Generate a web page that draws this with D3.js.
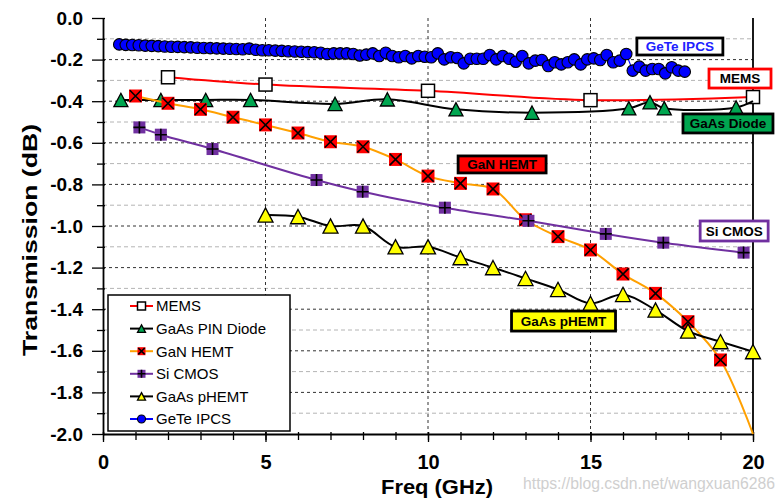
<!DOCTYPE html>
<html><head><meta charset="utf-8">
<script src="https://cdn.jsdelivr.net/npm/d3@7"></script>
<style>
html,body{margin:0;padding:0;background:#fff;}
svg{display:block;font-family:"Liberation Sans",Arial,sans-serif;}
</style></head><body>
<svg id="chart" width="783" height="501"></svg>
<script>
// ---------------- DATA ----------------
const memsFreq = [2, 5, 10, 15, 20];
const memsVal  = [-0.285, -0.32, -0.35, -0.395, -0.38];

const pinFreq = [0.55, 1.78, 3.16, 4.54, 7.14, 8.75, 10.86, 13.2, 16.18, 16.83, 17.27, 19.48];
const pinVal  = [-0.394, -0.394, -0.394, -0.394, -0.413, -0.391, -0.439, -0.455, -0.434, -0.405, -0.434, -0.43];
const pinTail = [[20, -0.40]];

const ganFreq = [1, 2, 3, 4, 5, 6, 7, 8, 9, 10, 11, 12, 13, 14, 15, 16, 17, 18, 19];
const ganVal  = [-0.375, -0.41, -0.439, -0.477, -0.514, -0.553, -0.595, -0.619, -0.68, -0.76, -0.795, -0.822, -0.97, -1.051, -1.115, -1.231, -1.324, -1.46, -1.644];
const ganTail = [[20, -2.0]];

const cmosFreq = [1.12, 1.78, 3.37, 6.57, 7.99, 10.52, 13.09, 15.47, 17.24, 19.71];
const cmosVal  = [-0.526, -0.561, -0.63, -0.779, -0.835, -0.912, -0.975, -1.038, -1.08, -1.128];

const phemtFreq = [5, 6, 7, 8, 9, 10, 11, 12, 13, 14, 15, 16, 17, 18, 19, 20];
const phemtVal  = [-0.947, -0.955, -1.0, -1.0, -1.1, -1.1, -1.152, -1.2, -1.252, -1.305, -1.372, -1.329, -1.404, -1.505, -1.556, -1.604];

const geteFreq = [0.5,0.7,0.9,1.1,1.3,1.5,1.7,1.9,2.1,2.3,2.5,2.7,2.9,3.1,3.3,3.5,3.7,3.9,4.1,4.3,4.5,4.7,4.9,5.1,5.3,5.5,5.7,5.9,6.1,6.3,6.5,
  6.7,6.9,7.1,7.3,7.5,7.7,7.9,8.1,8.3,8.5,8.7,8.9,9.1,9.3,9.5,9.7,9.9,10.1,10.3,10.5,10.7,10.9,11.1,11.3,11.5,11.7,11.9,12.1,12.3,12.5,12.7,12.9,13.1,13.3,
  13.5,13.7,13.9,14.1,14.3,14.5,14.7,14.9,15.1,15.3,15.5,15.7,15.9,16.1,16.3,16.5,16.7,16.9,17.1,17.3,17.5,17.7,17.9];
const geteVal = [-0.127,-0.129,-0.130,-0.131,-0.133,-0.134,-0.135,-0.137,-0.138,-0.139,-0.140,-0.141,-0.143,-0.144,-0.145,-0.146,-0.147,-0.148,-0.149,-0.150,-0.147,-0.153,-0.155,-0.155,-0.157,-0.158,-0.160,-0.161,-0.162,-0.164,-0.165,
  -0.167,-0.173,-0.170,-0.170,-0.170,-0.173,-0.180,-0.176,-0.170,-0.183,-0.167,-0.183,-0.189,-0.183,-0.194,-0.183,-0.186,-0.189,-0.170,-0.199,-0.189,-0.192,-0.218,-0.196,-0.196,-0.196,-0.178,-0.199,-0.183,-0.196,-0.210,-0.183,-0.218,-0.205,
  -0.202,-0.231,-0.213,-0.223,-0.213,-0.199,-0.223,-0.199,-0.194,-0.202,-0.178,-0.213,-0.205,-0.173,-0.253,-0.234,-0.253,-0.245,-0.245,-0.266,-0.237,-0.253,-0.258];

const seriesNames = ["MEMS", "GaAs PIN Diode", "GaN HEMT", "Si CMOS", "GaAs pHEMT", "GeTe IPCS"];

const yTickValues = [0, -0.2, -0.4, -0.6, -0.8, -1.0, -1.2, -1.4, -1.6, -1.8, -2.0];
const yTickLabels = ["0.0", "-0.2", "-0.4", "-0.6", "-0.8", "-1.0", "-1.2", "-1.4", "-1.6", "-1.8", "-2.0"];
const xTickValues = [0, 5, 10, 15, 20];
const xTickLabels = ["0", "5", "10", "15", "20"];

const annotationTexts = ["GeTe IPCS", "MEMS", "GaAs Diode", "GaN HEMT", "Si CMOS", "GaAs pHEMT"];
const annotationAnchorFreq = [17.75, 19.6, 19.23, 12.28, 19.42, 14.17];
const annotationAnchorVal  = [-0.137, -0.291, -0.507, -0.704, -1.024, -1.457];

// ---------------- LAYOUT / STYLE ----------------
const svg = d3.select("#chart");
const x = d3.scaleLinear().domain([0, 20]).range([103, 753]);
const y = d3.scaleLinear().domain([-2, 0]).range([434, 18]);

const zip = (a, b) => a.map((d, i) => [d, b[i]]);

// gridlines
const grid = svg.append("g");
d3.range(1, 20).forEach(k => {
  const v = -k / 10;
  const major = k % 2 === 0;
  grid.append("line")
    .attr("x1", x(0)).attr("x2", x(20))
    .attr("y1", y(v)).attr("y2", y(v))
    .attr("stroke", major ? "#333" : "#b4b4b4")
    .attr("stroke-width", 1)
    .attr("stroke-dasharray", major ? "3,3" : "4,3");
});
[5, 10, 15].forEach(f => {
  grid.append("line")
    .attr("x1", x(f)).attr("x2", x(f))
    .attr("y1", y(0)).attr("y2", y(-2))
    .attr("stroke", "#333").attr("stroke-width", 1)
    .attr("stroke-dasharray", "3,3");
});

// axes
const yMinor = svg.append("g").attr("transform", `translate(${x(0)},0)`)
  .call(d3.axisLeft(y).tickValues(d3.range(1, 20, 2).map(k => -k / 10)).tickSize(6).tickFormat(""));
yMinor.selectAll(".tick line").attr("x1", 2).attr("stroke-width", 1.3);
yMinor.select(".domain").remove();

const yAxis = svg.append("g").attr("transform", `translate(${x(0)},0)`)
  .call(d3.axisLeft(y).tickValues(yTickValues).tickSize(11).tickSizeOuter(0).tickPadding(9)
    .tickFormat((d, i) => yTickLabels[i]));
yAxis.selectAll(".tick line").attr("x1", 2).attr("stroke-width", 1.3);
yAxis.select(".domain").attr("stroke-width", 1.8);
yAxis.selectAll("text").attr("font-size", 19).attr("font-weight", "bold")
  .attr("font-family", '"Liberation Sans",Arial,sans-serif').attr("fill", "#000");

const xMinor = svg.append("g").attr("transform", `translate(0,${y(-2)})`)
  .call(d3.axisBottom(x).tickValues(d3.range(0, 21)).tickSize(6).tickFormat(""));
xMinor.selectAll(".tick line").attr("y1", -2).attr("stroke-width", 1.3);
xMinor.select(".domain").remove();

const xAxis = svg.append("g").attr("transform", `translate(0,${y(-2)})`)
  .call(d3.axisBottom(x).tickValues(xTickValues).tickSize(8).tickSizeOuter(0)
    .tickFormat((d, i) => xTickLabels[i]));
xAxis.selectAll(".tick line").attr("y1", -2).attr("stroke-width", 1.3);
xAxis.select(".domain").attr("stroke-width", 1.8);
xAxis.selectAll("text").attr("font-size", 20).attr("font-weight", "bold")
  .attr("font-family", '"Liberation Sans",Arial,sans-serif').attr("fill", "#000")
  .attr("y", 21);

// right border
svg.append("line").attr("x1", x(20)).attr("x2", x(20)).attr("y1", y(0)).attr("y2", y(-2))
  .attr("stroke", "#000").attr("stroke-width", 1.8);

// axis titles
svg.append("text").attr("transform", "translate(37,240) rotate(-90)")
  .attr("text-anchor", "middle").attr("font-size", 20).attr("font-weight", "bold")
  .attr("textLength", 232).attr("lengthAdjust", "spacingAndGlyphs")
  .text("Transmission (dB)");
svg.append("text").attr("x", 437).attr("y", 494)
  .attr("text-anchor", "middle").attr("font-size", 21).attr("font-weight", "bold")
  .attr("textLength", 112).attr("lengthAdjust", "spacingAndGlyphs")
  .text("Freq (GHz)");

// watermark
svg.append("text").attr("x", 775).attr("y", 489).attr("text-anchor", "end")
  .attr("font-size", 16).attr("fill", "#cfcfcf")
  .attr("textLength", 252).attr("lengthAdjust", "spacingAndGlyphs")
  .text("https://blog.csdn.net/wangxuan6286");

// ---------------- MARKERS ----------------
function drawMarker(g, type, cx, cy, s) {
  if (type === "square") {
    g.append("rect").attr("x", cx - s / 2).attr("y", cy - s / 2).attr("width", s).attr("height", s)
      .attr("fill", "#fff").attr("stroke", "#000").attr("stroke-width", 1.5);
  } else if (type === "triGreen" || type === "triYellow") {
    const w = s, h = s * 0.95;
    g.append("path").attr("d", `M${cx},${cy - h / 2}L${cx + w / 2},${cy + h / 2}L${cx - w / 2},${cy + h / 2}Z`)
      .attr("fill", type === "triGreen" ? "#00a650" : "#ffff00")
      .attr("stroke", "#000").attr("stroke-width", 1.3).attr("stroke-linejoin", "miter");
  } else if (type === "xsq") {
    g.append("rect").attr("x", cx - s / 2).attr("y", cy - s / 2).attr("width", s).attr("height", s)
      .attr("fill", "#ff0000");
    const d = s / 2 - 0.8;
    g.append("path").attr("d", `M${cx - d},${cy - d}L${cx + d},${cy + d}M${cx - d},${cy + d}L${cx + d},${cy - d}`)
      .attr("stroke", "#000").attr("stroke-width", 1.6);
  } else if (type === "plussq") {
    g.append("rect").attr("x", cx - s / 2).attr("y", cy - s / 2).attr("width", s).attr("height", s)
      .attr("fill", "#7030a0");
    const d = s / 2;
    g.append("path").attr("d", `M${cx - d},${cy}L${cx + d},${cy}M${cx},${cy - d}L${cx},${cy + d}`)
      .attr("stroke", "#000").attr("stroke-width", 1.6);
  } else if (type === "circle") {
    g.append("circle").attr("cx", cx).attr("cy", cy).attr("r", s / 2)
      .attr("fill", "#0000ff").attr("stroke", "#000").attr("stroke-width", 1.1);
  }
}

const series = [
  { pts: zip(memsFreq, memsVal), tail: [], color: "#ff0000", marker: "square", size: 13, curve: d3.curveCatmullRom },
  { pts: zip(pinFreq, pinVal), tail: pinTail, color: "#000", marker: "triGreen", size: 14, curve: d3.curveCatmullRom },
  { pts: zip(ganFreq, ganVal), tail: ganTail, color: "#ffa000", marker: "xsq", size: 13, curve: d3.curveCatmullRom },
  { pts: zip(cmosFreq, cmosVal), tail: [], color: "#7030a0", marker: "plussq", size: 12, curve: d3.curveCatmullRom },
  { pts: zip(phemtFreq, phemtVal), tail: [], color: "#000", marker: "triYellow", size: 15, curve: d3.curveCatmullRom },
  { pts: zip(geteFreq, geteVal), tail: [], color: "#0000ff", marker: "circle", size: 11.5, curve: d3.curveLinear, lw: 1.2 }
];

const plot = svg.append("g");
series.forEach(s => {
  const g = plot.append("g");
  const line = d3.line().x(d => x(d[0])).y(d => y(d[1])).curve(s.curve);
  g.append("path").attr("d", line(s.pts.concat(s.tail)))
    .attr("fill", "none").attr("stroke", s.color).attr("stroke-width", s.lw || 2);
  s.pts.forEach(p => drawMarker(g, s.marker, x(p[0]), y(p[1]), s.size));
});

// ---------------- ANNOTATION BOXES ----------------
const annStyle = [
  { w: 86, h: 17, fill: "#fff", stroke: "#000", color: "#2020ff" },
  { w: 62, h: 19, fill: "#fff", stroke: "#ff0000", color: "#000" },
  { w: 90, h: 19, fill: "#00a650", stroke: "#000", color: "#000" },
  { w: 88, h: 17, fill: "#ff0000", stroke: "#000", color: "#000" },
  { w: 68, h: 20, fill: "#fff", stroke: "#7030a0", color: "#000" },
  { w: 104, h: 20, fill: "#ffff00", stroke: "#000", color: "#000" }
];
annotationTexts.forEach((t, i) => {
  const st = annStyle[i];
  const cx = x(annotationAnchorFreq[i]), cy = y(annotationAnchorVal[i]);
  svg.append("rect").attr("x", cx - st.w / 2).attr("y", cy - st.h / 2)
    .attr("width", st.w).attr("height", st.h)
    .attr("fill", st.fill).attr("stroke", st.stroke).attr("stroke-width", 2.8);
  svg.append("text").attr("x", cx).attr("y", cy).attr("dy", "0.36em")
    .attr("text-anchor", "middle").attr("font-size", 13.5).attr("font-weight", "bold")
    .attr("fill", st.color).text(t);
});

// ---------------- LEGEND ----------------
const lg = svg.append("g");
lg.append("rect").attr("x", 108).attr("y", 295).attr("width", 182).attr("height", 136)
  .attr("fill", "#fff").attr("stroke", "#000").attr("stroke-width", 1.5);
seriesNames.forEach((name, i) => {
  const s = series[i];
  const cy = 306 + i * 22.6;
  lg.append("line").attr("x1", 130).attr("x2", 153).attr("y1", cy).attr("y2", cy)
    .attr("stroke", s.color).attr("stroke-width", 2);
  drawMarker(lg, s.marker, 141.5, cy, 8);
  lg.append("text").attr("x", 156).attr("y", cy).attr("dy", "0.36em")
    .attr("font-size", 15).attr("fill", "#000").text(name);
});
</script>
</body></html>
